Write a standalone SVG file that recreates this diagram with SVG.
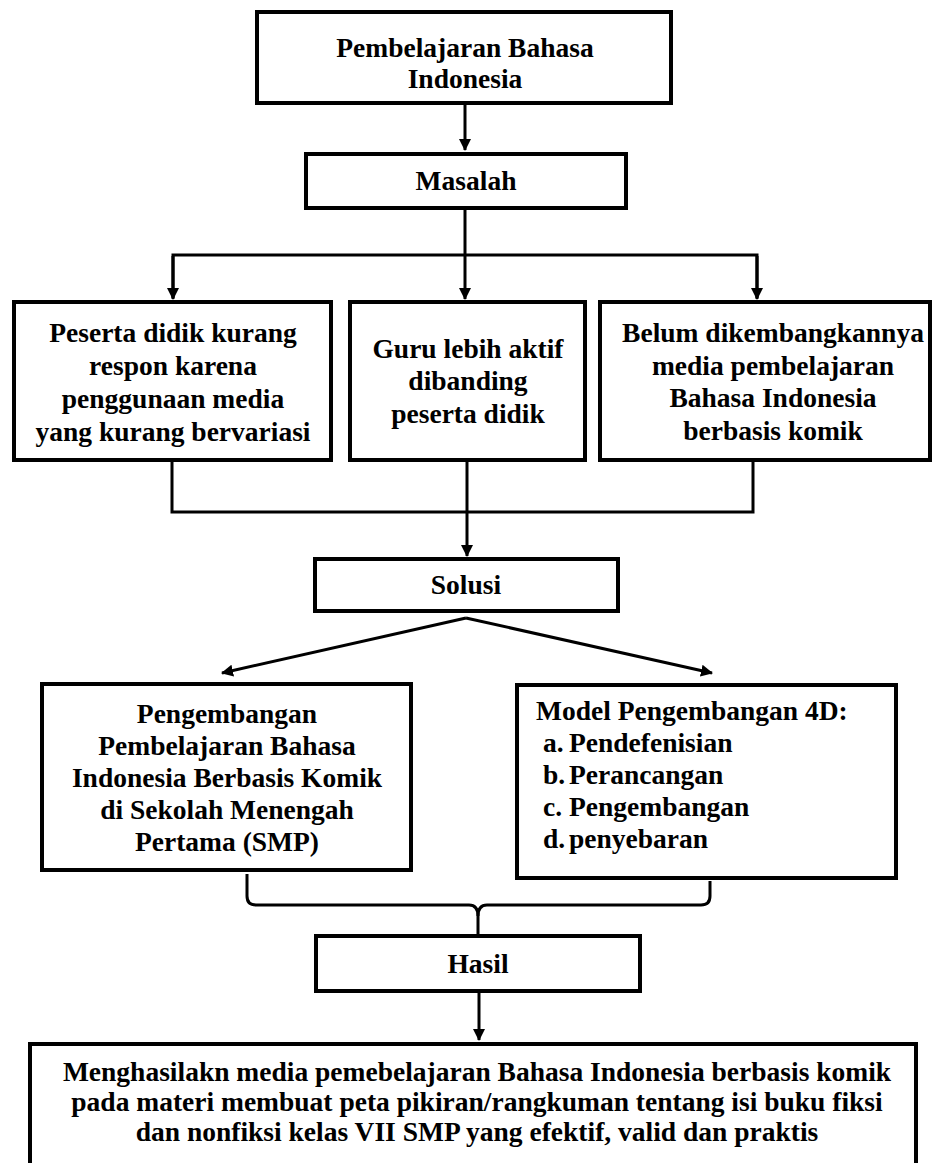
<svg xmlns="http://www.w3.org/2000/svg" width="939" height="1163" viewBox="0 0 939 1163">
<defs>
<style>
.box{fill:#fff;stroke:#000;stroke-width:4}
.t{font-family:"Liberation Serif","Times New Roman",serif;font-weight:bold;font-size:27.5px;fill:#000;text-anchor:middle}
.l{font-family:"Liberation Serif","Times New Roman",serif;font-weight:bold;font-size:27.5px;fill:#000}
.c{fill:none;stroke:#000;stroke-width:3}
</style>
<marker id="ah" viewBox="0 0 12 12" refX="11" refY="6" markerWidth="12" markerHeight="12" markerUnits="userSpaceOnUse" orient="auto">
<path d="M0,0 L12,6 L0,12 z" fill="#000"/>
</marker>
</defs>
<rect width="939" height="1163" fill="#fff"/>
<g id="connectors">
<path class="c" d="M465,105 L465,150" marker-end="url(#ah)"/>
<path class="c" d="M465,210 L465,255"/>
<path class="c" d="M173,298 L173,255 L757,255 L757,298" />
<path class="c" d="M173,256 L173,299" marker-end="url(#ah)"/>
<path class="c" d="M757,256 L757,299" marker-end="url(#ah)"/>
<path class="c" d="M465,255 L465,299" marker-end="url(#ah)"/>
<path class="c" d="M172,462 L172,512 L753,512 L753,462"/>
<path class="c" d="M467,462 L467,556" marker-end="url(#ah)"/>
<path class="c" d="M466,618 L222,673" marker-end="url(#ah)"/>
<path class="c" d="M466,618 L712,673" marker-end="url(#ah)"/>
<path class="c" d="M247,874 L247,896 Q247,905 256,905 L469,905 Q478,905 478,916 L478,935"/>
<path class="c" d="M710,881 L710,896 Q710,905 701,905 L487,905 Q478,905 478,916"/>
<path class="c" d="M479,993 L479,1040" marker-end="url(#ah)"/>
</g>
<g id="node-title">
<rect class="box" x="257" y="12" width="414" height="91"/>
<text class="t" x="465" y="57">Pembelajaran Bahasa</text>
<text class="t" x="465" y="88">Indonesia</text>
</g>
<g id="node-masalah">
<rect class="box" x="306" y="154" width="320" height="54"/>
<text class="t" x="466" y="190">Masalah</text>
</g>
<g id="node-masalah1">
<rect class="box" x="14" y="302" width="317" height="158"/>
<text class="t" x="173" y="342">Peserta didik kurang</text>
<text class="t" x="173" y="375">respon karena</text>
<text class="t" x="173" y="408">penggunaan media</text>
<text class="t" x="173" y="441">yang kurang bervariasi</text>
</g>
<g id="node-masalah2">
<rect class="box" x="350" y="302" width="235" height="158"/>
<text class="t" x="468" y="358">Guru lebih aktif</text>
<text class="t" x="468" y="390">dibanding</text>
<text class="t" x="468" y="423">peserta didik</text>
</g>
<g id="node-masalah3">
<rect class="box" x="600" y="302" width="330" height="158"/>
<text class="t" x="773" y="342">Belum dikembangkannya</text>
<text class="t" x="773" y="375">media pembelajaran</text>
<text class="t" x="773" y="407">Bahasa Indonesia</text>
<text class="t" x="773" y="440">berbasis komik</text>
</g>
<g id="node-solusi">
<rect class="box" x="315" y="559" width="303" height="52"/>
<text class="t" x="466" y="594">Solusi</text>
</g>
<g id="node-solusi1">
<rect class="box" x="42" y="684" width="369" height="186"/>
<text class="t" x="227" y="723">Pengembangan</text>
<text class="t" x="227" y="755">Pembelajaran Bahasa</text>
<text class="t" x="227" y="787">Indonesia Berbasis Komik</text>
<text class="t" x="227" y="819">di Sekolah Menengah</text>
<text class="t" x="227" y="851">Pertama (SMP)</text>
</g>
<g id="node-solusi2">
<rect class="box" x="517" y="685" width="379" height="193"/>
<text class="l" x="536" y="720">Model Pengembangan 4D:</text>
<text class="l" x="543" y="752">a.</text><text class="l" x="569" y="752">Pendefenisian</text>
<text class="l" x="543" y="784">b.</text><text class="l" x="569" y="784">Perancangan</text>
<text class="l" x="543" y="816">c.</text><text class="l" x="569" y="816">Pengembangan</text>
<text class="l" x="543" y="848">d.</text><text class="l" x="569" y="848">penyebaran</text>
</g>
<g id="node-hasil">
<rect class="box" x="316" y="936" width="324" height="55"/>
<text class="t" x="478" y="973">Hasil</text>
</g>
<g id="node-output">
<rect class="box" x="30" y="1044" width="886" height="130"/>
<text class="t" x="477" y="1081">Menghasilakn media pemebelajaran Bahasa Indonesia berbasis komik</text>
<text class="t" x="477" y="1111">pada materi membuat peta pikiran/rangkuman tentang isi buku fiksi</text>
<text class="t" x="477" y="1141">dan nonfiksi kelas VII SMP yang efektif, valid dan praktis</text>
</g>
</svg>
